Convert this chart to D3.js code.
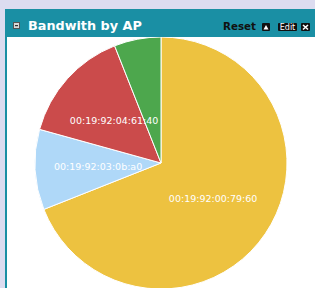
<!DOCTYPE html>
<html>
<head>
<meta charset="utf-8">
<script src="https://cdn.jsdelivr.net/npm/d3@7"></script>
<style>
  body { margin: 0; background: #dcdcf0; }
  svg { display: block; }
</style>
</head>
<body>
<script>
// chart data
const aps = ["00:19:92:00:79:60", "00:19:92:03:0b:a0", "00:19:92:04:61:40", "00:19:92:05:1c:e0"];
const bandwidth = [69, 10.3, 14.7, 6];
const colors = ["#edc240", "#afd8f8", "#cb4b4b", "#4da74d"];
const labelled = [true, true, true, false];

const w = 315, h = 288;
const svg = d3.select("body").append("svg").attr("width", w).attr("height", h);

// panel frame
svg.append("rect").attr("x", 0).attr("y", 0).attr("width", w).attr("height", h).attr("fill", "#dcdcf0");
svg.append("rect").attr("x", 5).attr("y", 9).attr("width", w - 5).attr("height", h - 9).attr("fill", "#1a8fa4");
svg.append("rect").attr("x", 7).attr("y", 37).attr("width", w - 7).attr("height", h - 37).attr("fill", "#fff");

// header
const head = svg.append("g");
head.append("rect").attr("x", 13.5).attr("y", 22.5).attr("width", 6).attr("height", 6)
  .attr("fill", "#d9d9d9").attr("stroke", "#555").attr("stroke-width", 1);
head.append("rect").attr("x", 15).attr("y", 25).attr("width", 3).attr("height", 1.2).attr("fill", "#333");
head.append("text").attr("x", 28).attr("y", 30).text("Bandwith by AP")
  .attr("fill", "#fff").attr("font-family", "DejaVu Sans, Verdana, sans-serif")
  .attr("font-weight", "bold").attr("font-size", "12.8px");
head.append("text").attr("x", 223).attr("y", 30).text("Reset")
  .attr("fill", "#111").attr("font-family", "DejaVu Sans, Verdana, sans-serif")
  .attr("font-weight", "bold").attr("font-size", "10.3px");
head.append("rect").attr("x", 262).attr("y", 23).attr("width", 8).attr("height", 8).attr("rx", 1).attr("fill", "#111");
head.append("path").attr("d", "M263.5,29.5 L266,25 L268.5,29.5 Z").attr("fill", "#fff");
head.append("rect").attr("x", 278).attr("y", 23).attr("width", 19).attr("height", 8).attr("rx", 1).attr("fill", "#111");
head.append("text").attr("x", 287.5).attr("y", 30).attr("text-anchor", "middle").text("Edit")
  .attr("fill", "#fff").attr("font-family", "DejaVu Sans, Verdana, sans-serif").attr("font-size", "8px");
head.append("rect").attr("x", 301).attr("y", 23).attr("width", 9).attr("height", 8).attr("rx", 1).attr("fill", "#111");
head.append("path").attr("d", "M303,25 L308,29.5 M308,25 L303,29.5").attr("stroke", "#fff").attr("stroke-width", 1.6);

// pie
const cx = 161, cy = 163, r = 126;
const pie = d3.pie().sort(null).value(d => d)(bandwidth);
const arc = d3.arc().innerRadius(0).outerRadius(r);

const plot = svg.append("g");
plot.append("clipPath").attr("id", "body").append("rect")
  .attr("x", 7).attr("y", 37).attr("width", w - 7).attr("height", h - 37);
const g = plot.append("g").attr("clip-path", "url(#body)")
  .append("g").attr("transform", `translate(${cx},${cy})`);

g.selectAll("path").data(pie).enter().append("path")
  .attr("d", arc)
  .attr("fill", (d, i) => colors[i])
  .attr("stroke", "#fff").attr("stroke-width", 1);

g.selectAll("text").data(pie.filter((d, i) => labelled[i])).enter().append("text")
  .attr("transform", d => `translate(${arc.centroid(d)})`)
  .attr("dy", "0.35em").attr("text-anchor", "middle")
  .attr("fill", "#fff").attr("font-family", "DejaVu Sans, Verdana, sans-serif")
  .attr("font-size", "9.5px")
  .text(d => aps[d.index]);
</script>
</body>
</html>
